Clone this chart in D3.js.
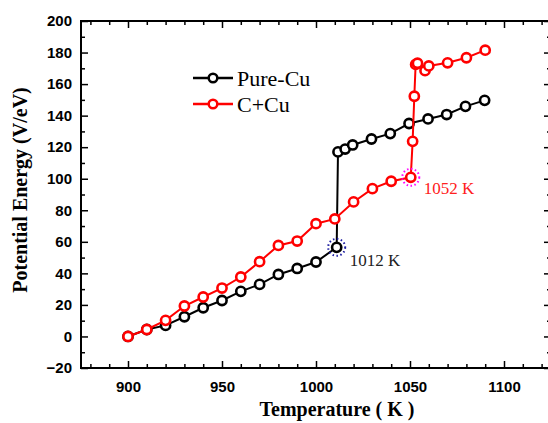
<!DOCTYPE html>
<meta charset="utf-8">
<style>
body {margin: 0; background: #fff;}
.tick text {font: bold 15px "Liberation Sans", Arial, sans-serif; fill: #000;}
.tick line {stroke: #000; stroke-width: 1.5;}
.ttl {font-family: "Liberation Serif", "Times New Roman", serif; font-weight: bold; font-size: 20px;}
.leg {font-family: "Liberation Serif", "Times New Roman", serif; font-size: 22px;}
.ann {font-family: "Liberation Serif", "Times New Roman", serif; font-size: 17px;}
</style>
<body>
<script src="https://d3js.org/d3.v7.min.js"></script>
<div id="chart"></div>
</body>
<script>
// data
var tempPure = [900, 910, 920, 930, 940, 950, 960, 970, 980, 990, 1000, 1011, 1011.7, 1015.5, 1019.5, 1029.5, 1039.5, 1049.5, 1059.6, 1069.5, 1079.5, 1089.7];
var energyPure = [0, 4.4, 7.0, 12.5, 18.2, 22.8, 28.6, 33.0, 39.3, 43.1, 47.2, 56.5, 117.0, 118.8, 121.4, 125.2, 128.6, 135.0, 137.9, 140.7, 145.9, 149.7];
var tempCCu = [900, 910, 920, 930, 940, 950, 960, 970, 980, 990, 1000, 1010, 1020, 1030, 1040, 1050.4, 1051.4, 1052.3, 1053, 1054, 1058, 1060, 1070, 1080, 1090];
var energyCCu = [0, 4.4, 10.2, 19.3, 25.0, 30.7, 37.7, 47.4, 57.7, 60.5, 71.5, 74.5, 85.3, 93.7, 98.4, 100.9, 123.7, 152.3, 172.5, 173.2, 168.5, 171.5, 173.5, 176.7, 181.5];
var seriesNames = ["Pure-Cu", "C+Cu"];
var seriesColors = ["#000000", "#ff0000"];
var xMajor = [900, 950, 1000, 1050, 1100];
var yMajor = [-20, 0, 20, 40, 60, 80, 100, 120, 140, 160, 180, 200];
var marks = [
  {name: "1012 K", t: 1011, e: 56.5, ring: "#1a1aa0", color: "#222"},
  {name: "1052 K", t: 1050.4, e: 100.9, ring: "#ff00ff", color: "#ff2020"}
];

var width = 548, height = 423;
var pLeft = 81, pTop = 21, pRight = 551, pBottom = 368;

var x = d3.scaleLinear().domain([875, 1125]).range([pLeft, pRight]);
var y = d3.scaleLinear().domain([-20, 200]).range([pBottom, pTop]);

var svg = d3.select("#chart").append("svg")
    .attr("width", width)
    .attr("height", height);

var xMinor = d3.range(880, 1125, 10).filter(function(d) { return d % 50 != 0; });
var yMinor = d3.range(-10, 200, 20);

function ax(gen, tr, vals, size, pad, fmt) {
  var g = svg.append("g").attr("transform", tr)
    .call(gen.tickValues(vals).tickSize(size).tickPadding(pad).tickFormat(fmt));
  g.select(".domain").remove();
  return g;
}
var none = function() { return ""; };

ax(d3.axisBottom(x), "translate(0," + pBottom + ")", xMajor, -7, 13, d3.format("d"));
ax(d3.axisBottom(x), "translate(0," + pBottom + ")", xMinor, -4, 0, none);
ax(d3.axisTop(x), "translate(0," + pTop + ")", xMajor, -7, 0, none);
ax(d3.axisTop(x), "translate(0," + pTop + ")", xMinor, -4, 0, none);
ax(d3.axisLeft(y), "translate(" + pLeft + ",0)", yMajor, -7, 9, d3.format("d"));
ax(d3.axisLeft(y), "translate(" + pLeft + ",0)", yMinor, -4, 0, none);
ax(d3.axisRight(y), "translate(" + pRight + ",0)", yMajor, -7, 0, none);
ax(d3.axisRight(y), "translate(" + pRight + ",0)", yMinor, -4, 0, none);

svg.append("rect")
  .attr("x", pLeft).attr("y", pTop)
  .attr("width", pRight - pLeft).attr("height", pBottom - pTop)
  .attr("fill", "none").attr("stroke", "#000").attr("stroke-width", 2);

// series
var series = [
  {t: tempPure, e: energyPure},
  {t: tempCCu, e: energyCCu}
];
var line = d3.line().x(function(d) { return x(d[0]); }).y(function(d) { return y(d[1]); });

series.forEach(function(s, i) {
  var pts = d3.zip(s.t, s.e);
  svg.append("path")
    .attr("d", line(pts))
    .attr("fill", "none")
    .attr("stroke", seriesColors[i])
    .attr("stroke-width", 2);
  svg.append("g").selectAll("circle")
    .data(pts)
    .enter().append("circle")
    .attr("cx", function(d) { return x(d[0]); })
    .attr("cy", function(d) { return y(d[1]); })
    .attr("r", 4.6)
    .attr("fill", "#fff")
    .attr("stroke", seriesColors[i])
    .attr("stroke-width", 2.6);
});

// highlighted transition points
marks.forEach(function(m, i) {
  svg.append("circle")
    .attr("cx", x(m.t)).attr("cy", y(m.e))
    .attr("r", 8.5)
    .attr("fill", "none")
    .attr("stroke", m.ring)
    .attr("stroke-width", 2)
    .attr("stroke-dasharray", "1.5,2.5");
  svg.append("text")
    .attr("class", "ann")
    .attr("x", x(m.t) + 13)
    .attr("y", y(m.e) + (i == 0 ? 19 : 17))
    .attr("fill", m.color)
    .text(m.name);
});

// legend
var legY = [78, 104];
seriesNames.forEach(function(n, i) {
  var g = svg.append("g").attr("transform", "translate(193," + legY[i] + ")");
  g.append("line").attr("x1", 0).attr("x2", 40).attr("y1", 0).attr("y2", 0)
    .attr("stroke", seriesColors[i]).attr("stroke-width", 2.5);
  g.append("circle").attr("cx", 20).attr("cy", 0).attr("r", 4.3)
    .attr("fill", "#fff").attr("stroke", seriesColors[i]).attr("stroke-width", 2.5);
  g.append("text").attr("class", "leg").attr("x", 44).attr("y", 7.5).text(n);
});

// axis titles
svg.append("text").attr("class", "ttl")
  .attr("x", 337).attr("y", 416)
  .attr("text-anchor", "middle")
  .text("Temperature ( K )");
svg.append("text").attr("class", "ttl")
  .attr("transform", "translate(27,190) rotate(-90)")
  .attr("text-anchor", "middle")
  .text("Potential Energy (V/eV)");
</script>
